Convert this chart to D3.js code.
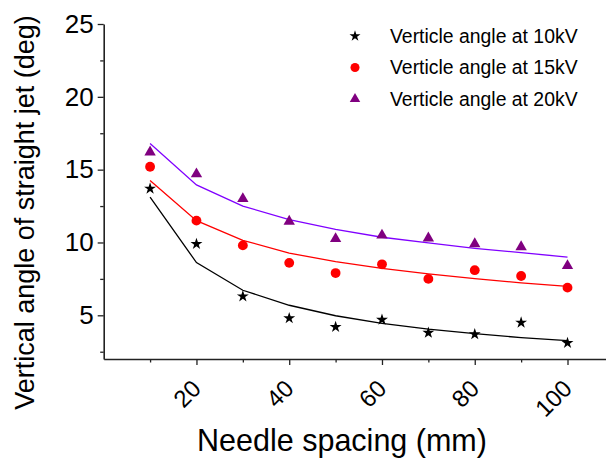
<!DOCTYPE html>
<html>
<head>
<meta charset="utf-8">
<script src="https://cdn.jsdelivr.net/npm/d3@7/dist/d3.min.js"></script>
<style>
  html, body { margin: 0; padding: 0; background: #fff; }
  svg { display: block; font-family: "Liberation Sans", Arial, sans-serif; }
</style>
</head>
<body>
<svg id="chart" width="606" height="464"></svg>
<script>
// Needle spacing (mm)
const spacing = [10, 20, 30, 40, 50, 60, 70, 80, 90, 100];

// Measured vertical angle of straight jet (deg)
const angle10kV = [13.7, 9.9, 6.3, 4.8, 4.2, 4.7, 3.8, 3.7, 4.5, 3.1];
const angle15kV = [15.2, 11.5, 9.8, 8.6, 7.9, 8.5, 7.5, 8.1, 7.7, 6.9];
const angle20kV = [16.2, 14.7, 13.0, 11.45, 10.25, 10.5, 10.3, 9.9, 9.7, 8.4];

// Fitted curves
const fit10kV = [13.12, 8.62, 6.72, 5.69, 4.97, 4.45, 4.05, 3.74, 3.47, 3.26];
const fit15kV = [14.25, 11.5, 10.15, 9.27, 8.68, 8.22, 7.84, 7.52, 7.23, 6.99];
const fit20kV = [16.79, 13.95, 12.5, 11.57, 10.9, 10.36, 9.97, 9.6, 9.3, 9.0];

// Axis ticks
const xMajorTicks = [20, 40, 60, 80, 100];
const xMinorTicks = [10, 30, 50, 70, 90];
const yMajorTicks = [5, 10, 15, 20, 25];
const yMinorTicks = [2.5, 7.5, 12.5, 17.5, 22.5];

const legendLabels = ["Verticle angle at 10kV", "Verticle angle at 15kV", "Verticle angle at 20kV"];

const series = [
  { name: legendLabels[0], values: angle10kV, fit: fit10kV, symbol: d3.symbolStar, size: 44, fill: "#000000", line: "#000000" },
  { name: legendLabels[1], values: angle15kV, fit: fit15kV, symbol: d3.symbolCircle, size: 76, fill: "#ff0000", line: "#ff0000" },
  { name: legendLabels[2], values: angle20kV, fit: fit20kV, symbol: d3.symbolTriangle, size: 56, fill: "#800080", line: "#8000ff" }
];

const svg = d3.select("#chart");

const x = d3.scaleLinear().domain([0, 108.3]).range([103.7, 606]);
const y = d3.scaleLinear().domain([2, 25]).range([359, 24]);

// Axes
const axisG = svg.append("g");

axisG.append("g").attr("transform", `translate(0,${y(2)})`)
  .call(d3.axisBottom(x).tickValues(xMajorTicks).tickSize(6).tickSizeOuter(0).tickFormat(""));
axisG.append("g").attr("transform", `translate(0,${y(2)})`)
  .call(d3.axisBottom(x).tickValues(xMinorTicks).tickSize(3.5).tickSizeOuter(0).tickFormat(""))
  .select(".domain").remove();

const yAxis = axisG.append("g").attr("transform", `translate(${x(0)},0)`)
  .call(d3.axisLeft(y).tickValues(yMajorTicks).tickSize(6).tickPadding(4).tickSizeOuter(0));
axisG.append("g").attr("transform", `translate(${x(0)},0)`)
  .call(d3.axisLeft(y).tickValues(yMinorTicks).tickSize(3.5).tickSizeOuter(0).tickFormat(""))
  .select(".domain").remove();

axisG.selectAll(".domain").attr("stroke", "#222").attr("stroke-width", 1.6);
axisG.selectAll(".tick line").attr("stroke", "#222").attr("stroke-width", 1.3);

yAxis.selectAll(".tick text")
  .attr("font-size", 26)
  .attr("font-family", "Liberation Sans, Arial, sans-serif")
  .attr("fill", "#000");

// Rotated x tick labels
axisG.append("g").selectAll("text")
  .data(xMajorTicks)
  .join("text")
  .attr("transform", d => `translate(${x(d) + 6},390) rotate(-45)`)
  .attr("text-anchor", "end")
  .attr("font-size", 24)
  .attr("fill", "#000")
  .text(d => d);

// Axis titles
svg.append("text")
  .attr("x", 342)
  .attr("y", 451)
  .attr("text-anchor", "middle")
  .attr("font-size", 30.5)
  .attr("fill", "#000")
  .text("Needle spacing (mm)");

svg.append("text")
  .attr("transform", "translate(34,212.5) rotate(-90)")
  .attr("text-anchor", "middle")
  .attr("font-size", 27)
  .attr("fill", "#000")
  .text("Vertical angle of straight jet (deg)");

// Fitted lines
const line = d3.line().x(d => x(d[0])).y(d => y(d[1]));
svg.append("g").selectAll("path")
  .data(series)
  .join("path")
  .attr("d", s => line(spacing.map((v, i) => [v, s.fit[i]])))
  .attr("fill", "none")
  .attr("stroke", s => s.line)
  .attr("stroke-width", 1.3);

// Data markers
series.forEach(s => {
  svg.append("g").selectAll("path")
    .data(spacing.map((v, i) => [v, s.values[i]]))
    .join("path")
    .attr("transform", d => `translate(${x(d[0])},${y(d[1])})`)
    .attr("d", d3.symbol().type(s.symbol).size(s.size))
    .attr("fill", s.fill);
});

// Legend
const legend = svg.append("g");
const legendRows = [36, 67.5, 99];
series.forEach((s, i) => {
  legend.append("path")
    .attr("transform", `translate(355,${legendRows[i]})`)
    .attr("d", d3.symbol().type(s.symbol).size(s.size * 0.85))
    .attr("fill", s.fill);
  legend.append("text")
    .attr("x", 390)
    .attr("y", legendRows[i])
    .attr("dy", "0.36em")
    .attr("font-size", 19.4)
    .attr("fill", "#000")
    .text(s.name);
});
</script>
</body>
</html>
